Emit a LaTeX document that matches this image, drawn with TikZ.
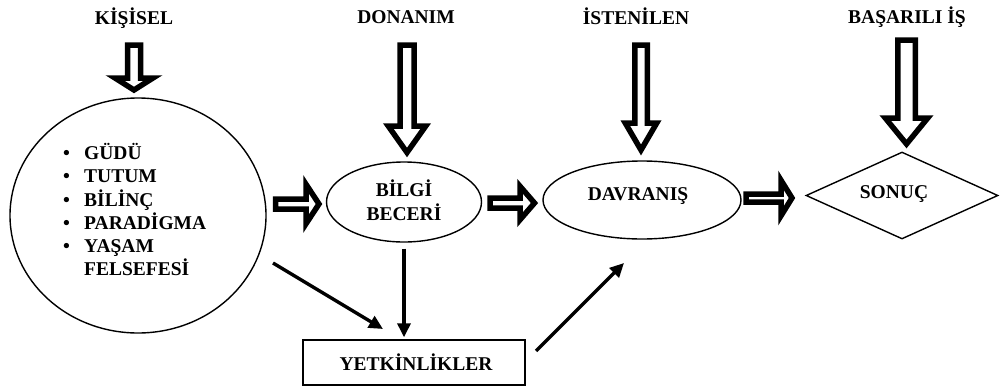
\documentclass[tikz,border=0pt]{standalone}
\usepackage{fontspec}
\setmainfont{Liberation Serif}
\usetikzlibrary{shapes.geometric,arrows.meta}
\newcommand\hadown[6]{% cx, ytop, yhead, ytip, shaft half, head half
  \draw[hollowarrow] ({#1-#5},#2) -- ({#1+#5},#2) -- ({#1+#5},#3) -- ({#1+#6},#3) -- (#1,#4) -- ({#1-#6},#3) -- ({#1-#5},#3) -- cycle;}
\newcommand\haright[6]{% cy, xstart, xhead, xtip, shaft half, head half
  \draw[hollowarrow] (#2,{#1-#5}) -- (#3,{#1-#5}) -- (#3,{#1-#6}) -- (#4,#1) -- (#3,{#1+#6}) -- (#3,{#1+#5}) -- (#2,{#1+#5}) -- cycle;}
\tikzset{
  lbl/.style={font=\bfseries\fontsize{19.5}{21}\selectfont, inner sep=0pt},
  shapeline/.style={draw=black, line width=1.4pt, fill=white},
  hollowarrow/.style={draw=black, line width=5.5pt, fill=white, line join=miter, miter limit=10},
  thinarrow/.style={draw=black, line width=3.4pt, -{Triangle[length=14pt,width=13pt]}},
}
\begin{document}
\begin{tikzpicture}[x=1pt,y=-1pt]
\useasboundingbox[fill=white] (0,0) rectangle (1000,388);

% top labels
\node[lbl, anchor=base] (kisisel) at (134,24) {KİŞİSEL};
\node[lbl, anchor=base] (donanim) at (406,23) {DONANIM};
\node[lbl, anchor=base] (istenilen) at (636,24) {İSTENİLEN};
\node[lbl, anchor=base] (basarili) at (907,23) {BAŞARILI İŞ};

% shapes
\node[shapeline, ellipse, minimum width=256pt, minimum height=235pt] (circle) at (138,215.5) {};
\node[shapeline, ellipse, minimum width=155pt, minimum height=80pt] (bilgi) at (404,202) {};
\node[shapeline, ellipse, minimum width=198pt, minimum height=78pt] (davranis) at (642,200) {};
\node[shapeline, diamond, minimum width=192pt, minimum height=87pt, inner sep=0pt] (sonuc) at (902,195.5) {};
\node[shapeline, rectangle, minimum width=222pt, minimum height=45pt] (yet) at (414,362.5) {};

% texts
\node[lbl, anchor=north west, align=left, font=\bfseries\fontsize{19.5}{23.3}\selectfont] (list) at (63,143)
 {\makebox[21pt][l]{•}GÜDÜ\\
  \makebox[21pt][l]{•}TUTUM\\
  \makebox[21pt][l]{•}BİLİNÇ\\
  \makebox[21pt][l]{•}PARADİGMA\\
  \makebox[21pt][l]{•}YAŞAM\\
  \hspace*{21pt}FELSEFESİ};
\node[lbl, anchor=base, align=center] (bilgitext) at (404,196) {BİLGİ};
\node[lbl, anchor=base, align=center] (becertext) at (404,220) {BECERİ};
\node[lbl, anchor=base] (davtext) at (638,200) {DAVRANIŞ};
\node[lbl, anchor=base] (sontext) at (894,198) {SONUÇ};
\node[lbl, anchor=base] (yettext) at (416,370) {YETKİNLİKLER};

% hollow arrows (down)
\hadown{134}{45}{78}{90}{6.5}{19}
\hadown{407}{45}{126}{152.5}{7}{18.75}
\hadown{641}{45}{123}{150}{6.25}{15.75}
\hadown{906.5}{40}{118}{144}{8.75}{21.25}
% hollow arrows (right)
\haright{204}{275.5}{306}{319}{5}{19.75}
\haright{203}{490}{520}{534.5}{5}{16.75}
\haright{198}{746}{781}{792}{4}{17.75}

% thin arrows
\coordinate (c1s) at (273,263);
\coordinate (c1e) at (383,329);
\coordinate (c3s) at (536,351);
\coordinate (c3e) at (624,263);
\draw[thinarrow] (c1s) -- (c1e);
\draw[thinarrow] ([yshift=-6pt]bilgi.south) -- ([xshift=-10pt,yshift=2pt]yet.north);
\draw[thinarrow] (c3s) -- (c3e);
\end{tikzpicture}
\end{document}
